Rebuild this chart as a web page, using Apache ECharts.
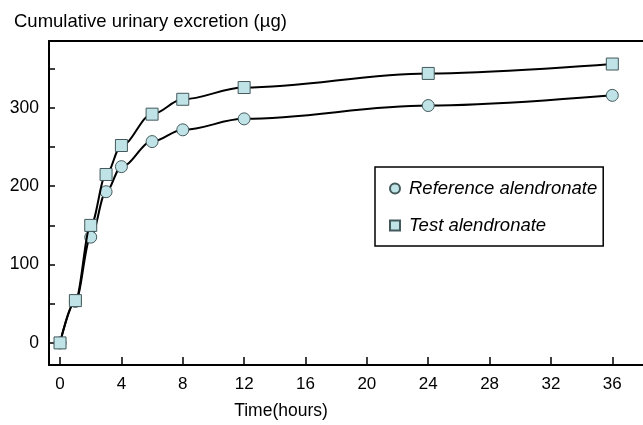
<!DOCTYPE html>
<html>
<head>
<meta charset="utf-8">
<script src="https://cdn.jsdelivr.net/npm/echarts@6/dist/echarts.min.js"></script>
<style>
  html, body { margin: 0; padding: 0; background: #fff; }
  #chart { width: 643px; height: 425px; }
</style>
</head>
<body>
<div id="chart"></div>
<script>
// sampling times (hours)
const hours = [0, 1, 2, 3, 4, 6, 8, 12, 24, 36];
// cumulative urinary excretion (µg)
const referenceVals = [0, 53, 135, 193, 225, 257, 272, 286, 303, 316];
const testVals = [0, 54, 150, 215, 252, 292, 311, 326, 344, 356];

const xTicks = [0, 4, 8, 12, 16, 20, 24, 28, 32, 36];
const yTicks = [0, 50, 100, 150, 200, 250, 300, 350];
const yLabels = [0, 100, 200, 300];

const fontFam = '"Liberation Sans", Arial, sans-serif';
const fill = '#bfe3e6';
const edge = '#44595c';

const chart = echarts.init(document.getElementById('chart'));

const toPairs = (vals) => hours.map((h, i) => [h, vals[i]]);

chart.setOption({
  animation: false,
  textStyle: { fontFamily: fontFam, color: '#000' },
  title: {
    text: 'Cumulative urinary excretion (µg)',
    left: 14,
    top: 12,
    padding: 0,
    textStyle: { fontSize: 18.5, fontWeight: 'normal', color: '#000', fontFamily: fontFam }
  },
  grid: { left: 49, top: 41, right: 0, bottom: 57 },
  legend: {
    orient: 'vertical',
    left: 375,
    top: 167,
    padding: [12, 6, 11, 14],
    itemGap: 18,
    itemWidth: 10,
    itemHeight: 10,
    borderColor: '#000',
    borderWidth: 1.5,
    textStyle: { fontSize: 18.5, fontStyle: 'italic', color: '#000', fontFamily: fontFam, padding: [0, 0, 0, 4] },
    data: [
      { name: 'Reference alendronate', icon: 'circle' },
      { name: 'Test alendronate', icon: 'rect' }
    ]
  },
  xAxis: [
    {
      type: 'value',
      min: -0.72,
      max: 38,
      name: 'Time(hours)',
      nameLocation: 'middle',
      nameGap: 37,
      nameTextStyle: { fontSize: 17.5, color: '#000', padding: [0, 130, 0, 0] },
      splitLine: { show: false },
      axisLine: { onZero: false, lineStyle: { color: '#000', width: 2 } },
      axisTick: { inside: true, length: 8, customValues: xTicks, lineStyle: { color: '#000', width: 1.5 } },
      axisLabel: { customValues: xTicks, margin: 11, fontSize: 17, color: '#000' }
    },
    {
      type: 'value',
      position: 'top',
      min: -0.72,
      max: 38,
      splitLine: { show: false },
      axisLine: { onZero: false, lineStyle: { color: '#000', width: 2 } },
      axisTick: { show: false },
      axisLabel: { show: false }
    }
  ],
  yAxis: {
    type: 'value',
    min: -28.2,
    max: 385.4,
    splitLine: { show: false },
    axisLine: { show: true, onZero: false, lineStyle: { color: '#000', width: 2 } },
    axisTick: { inside: true, length: 6, customValues: yTicks, lineStyle: { color: '#000', width: 1.5 } },
    axisLabel: { customValues: yLabels, margin: 10, fontSize: 17.5, color: '#000' }
  },
  series: [
    {
      name: 'Reference alendronate',
      type: 'line',
      data: toPairs(referenceVals),
      smooth: 0.35,
      smoothMonotone: 'x',
      symbol: 'circle',
      symbolSize: 12,
      lineStyle: { color: '#000', width: 2 },
      itemStyle: { color: fill, borderColor: edge, borderWidth: 1 },
      z: 2
    },
    {
      name: 'Test alendronate',
      type: 'line',
      data: toPairs(testVals),
      smooth: 0.35,
      smoothMonotone: 'x',
      symbol: 'rect',
      symbolSize: 12,
      lineStyle: { color: '#000', width: 2 },
      itemStyle: { color: fill, borderColor: edge, borderWidth: 1 },
      z: 3
    }
  ]
});
</script>
</body>
</html>
